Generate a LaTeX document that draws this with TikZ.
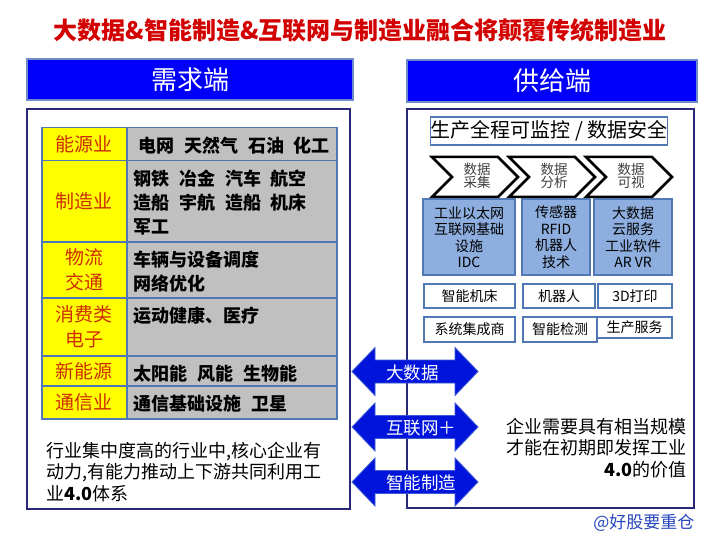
\documentclass[tikz,border=0pt]{standalone}
\usepackage{fontspec}
\setmainfont{Noto Sans CJK SC}
\usepackage{tikz}
\usetikzlibrary{positioning}

\definecolor{headblue}{RGB}{0,0,250}
\definecolor{headline}{RGB}{110,140,205}
\definecolor{frameline}{RGB}{40,40,120}
\definecolor{cellline}{RGB}{80,120,180}
\definecolor{cellyellow}{RGB}{255,255,0}
\definecolor{cellgray}{RGB}{192,192,192}
\definecolor{sortred}{RGB}{205,45,0}
\definecolor{boxblue}{RGB}{141,174,222}
\definecolor{arrowblue}{RGB}{0,20,220}
\definecolor{arrowedge}{RGB}{60,90,210}
\definecolor{titlered}{RGB}{210,0,0}
\definecolor{signblue}{RGB}{40,70,190}

\newcommand{\wsp}{\hspace{.55em}}

\begin{document}
\begin{tikzpicture}[x=1pt, y=-1pt,
  head/.style={draw=headline, line width=1.5pt, fill=headblue, text=white, font=\fontsize{26}{30}\selectfont},
  panel/.style={draw=frameline, line width=1.2pt, fill=white},
  ycell/.style={draw=cellline, line width=1.5pt, fill=cellyellow, text=sortred, anchor=north west, inner sep=0pt, minimum width=85, align=center, font=\fontsize{19}{25}\selectfont},
  gcell/.style={draw=cellline, line width=1.5pt, fill=cellgray, anchor=north west, inner sep=0pt, minimum width=210},
  gtext/.style={anchor=north west, inner sep=0pt, align=left, font=\bfseries\fontsize{18}{24}\selectfont},
  wbox/.style={draw=cellline, line width=1.2pt, fill=white, inner sep=0pt, font=\fontsize{14}{16}\selectfont},
  bbox/.style={draw=cellline, line width=1.2pt, fill=boxblue, inner sep=0pt, align=center, font=\fontsize{14}{16.5}\selectfont},
  chev/.style={draw=black, line width=2.5pt, fill=white, line join=miter},
  chevtext/.style={align=center, inner sep=0pt, text=black!75, font=\fontsize{13.5}{13.5}\selectfont},
  dbl/.style={fill=arrowblue, draw=arrowedge, line width=.8pt},
  dbltext/.style={anchor=west, text=white, inner sep=0pt, font=\fontsize{17.5}{20}\selectfont},
  note/.style={inner sep=0pt, font=\fontsize{18}{21.5}\selectfont}]
\useasboundingbox (0,0) rectangle (720,540);

% title and the two headers
\node[text=titlered, font=\bfseries\fontsize{24}{30}\selectfont] (title) at (360,30) {大数据\&智能制造\&互联网与制造业融合将颠覆传统制造业};
\node[head, minimum width=326, minimum height=41] (h_L) at (190,79.5) {需求端};
\node[head, minimum width=290, minimum height=42] (h_R) at (552,81) {供给端};

% panels
\node[panel, minimum width=323, minimum height=400] (p_L) at (188.5,309) {};
\node[panel, minimum width=287, minimum height=399] (p_R) at (550.5,308.5) {};

% demand side table
\foreach \t/\b/\lab/\x/\txt [count=\i] in {
  127/160/能源业/138/{电网\wsp 天然气\wsp 石油\wsp 化工},
  160/241/制造业/133/{钢铁\wsp 冶金\wsp 汽车\wsp 航空\\造船\wsp 宇航\wsp 造船\wsp 机床\\军工},
  241/297/{物流\\交通}/133/{车辆与设备调度\\网络优化},
  297/355/{消费类\\电子}/133/{运动健康、医疗},
  355/385/新能源/133/{太阳能\wsp 风能\wsp 生物能},
  385/418/通信业/133/{通信基础设施\wsp 卫星}}{
  \pgfmathsetmacro\h{\b-\t}
  \node[gcell, minimum height=\h] (g_\i) at (126,\t) {};
  \node[ycell, minimum height=\h] (y_\i) at (41,\t) {\lab};
  \node[gtext] (t_\i) at (\x,\t+10) {\txt};
}
\node[note, anchor=west, align=left] (n_L) at (46,472) {行业集中度高的行业中,核心企业有\\动力,有能力推动上下游共同利用工\\业\textbf{4.0}体系};

% supply side
\node[wbox, minimum width=234, minimum height=28, font=\fontsize{20}{24}\selectfont] (mon) at (549,131) {生产全程可监控 / 数据安全};
\foreach \L/\w [count=\i] in {432/采集, 509/分析, 586/可视}{
  \draw[chev] (\L,157) -- (\L+66,157) -- (\L+86,177) -- (\L+66,197) -- (\L,197) -- (\L+20,177) -- cycle;
  \node[chevtext] (c_\i) at (\L+45,176) {数据\\\w};
}
\node[bbox, minimum width=92, minimum height=76] (b_1) at (469,237) {工业以太网\\互联网基础\\设施\\IDC};
\node[bbox, minimum width=68, minimum height=76] (b_2) at (556,237) {传感器\\RFID\\机器人\\技术};
\node[bbox, minimum width=78, minimum height=76] (b_3) at (633,237) {大数据\\云服务\\工业软件\\AR VR};
\node[wbox, minimum width=91, minimum height=24] (w_1) at (469.5,296) {智能机床};
\node[wbox, minimum width=72, minimum height=24] (w_2) at (559,296) {机器人};
\node[wbox, minimum width=74, minimum height=24] (w_3) at (635,296) {3D打印};
\node[wbox, minimum width=91, minimum height=25] (w_4) at (469.5,329.5) {系统集成商};
\node[wbox, minimum width=74, minimum height=25] (w_5) at (560,329.5) {智能检测};
\node[wbox, minimum width=75, minimum height=21] (w_6) at (634.5,327.5) {生产服务};
\node[note, anchor=east, align=right] (n_R) at (687,448) {企业需要具有相当规模\\才能在初期即发挥工业\\\textbf{4.0}的价值};

% the three double arrows between the panels
\foreach \c/\lab [count=\i] in {371.5/大数据, 427/互联网＋, 482/智能制造}{
  \draw[dbl] (352,\c) -- (375,\c-24) -- (375,\c-11.5) -- (455,\c-11.5) -- (455,\c-24) -- (478,\c)
    -- (455,\c+24) -- (455,\c+11.5) -- (375,\c+11.5) -- (375,\c+24) -- cycle;
  \node[dbltext] (a_\i) at (386,\c+1) {\lab};
}

\node[text=signblue, inner sep=0pt, font=\fontsize{17}{20}\selectfont] (sign) [below left=5pt and 0pt of p_R.south east] {@好股要重仓};
\end{tikzpicture}
\end{document}
